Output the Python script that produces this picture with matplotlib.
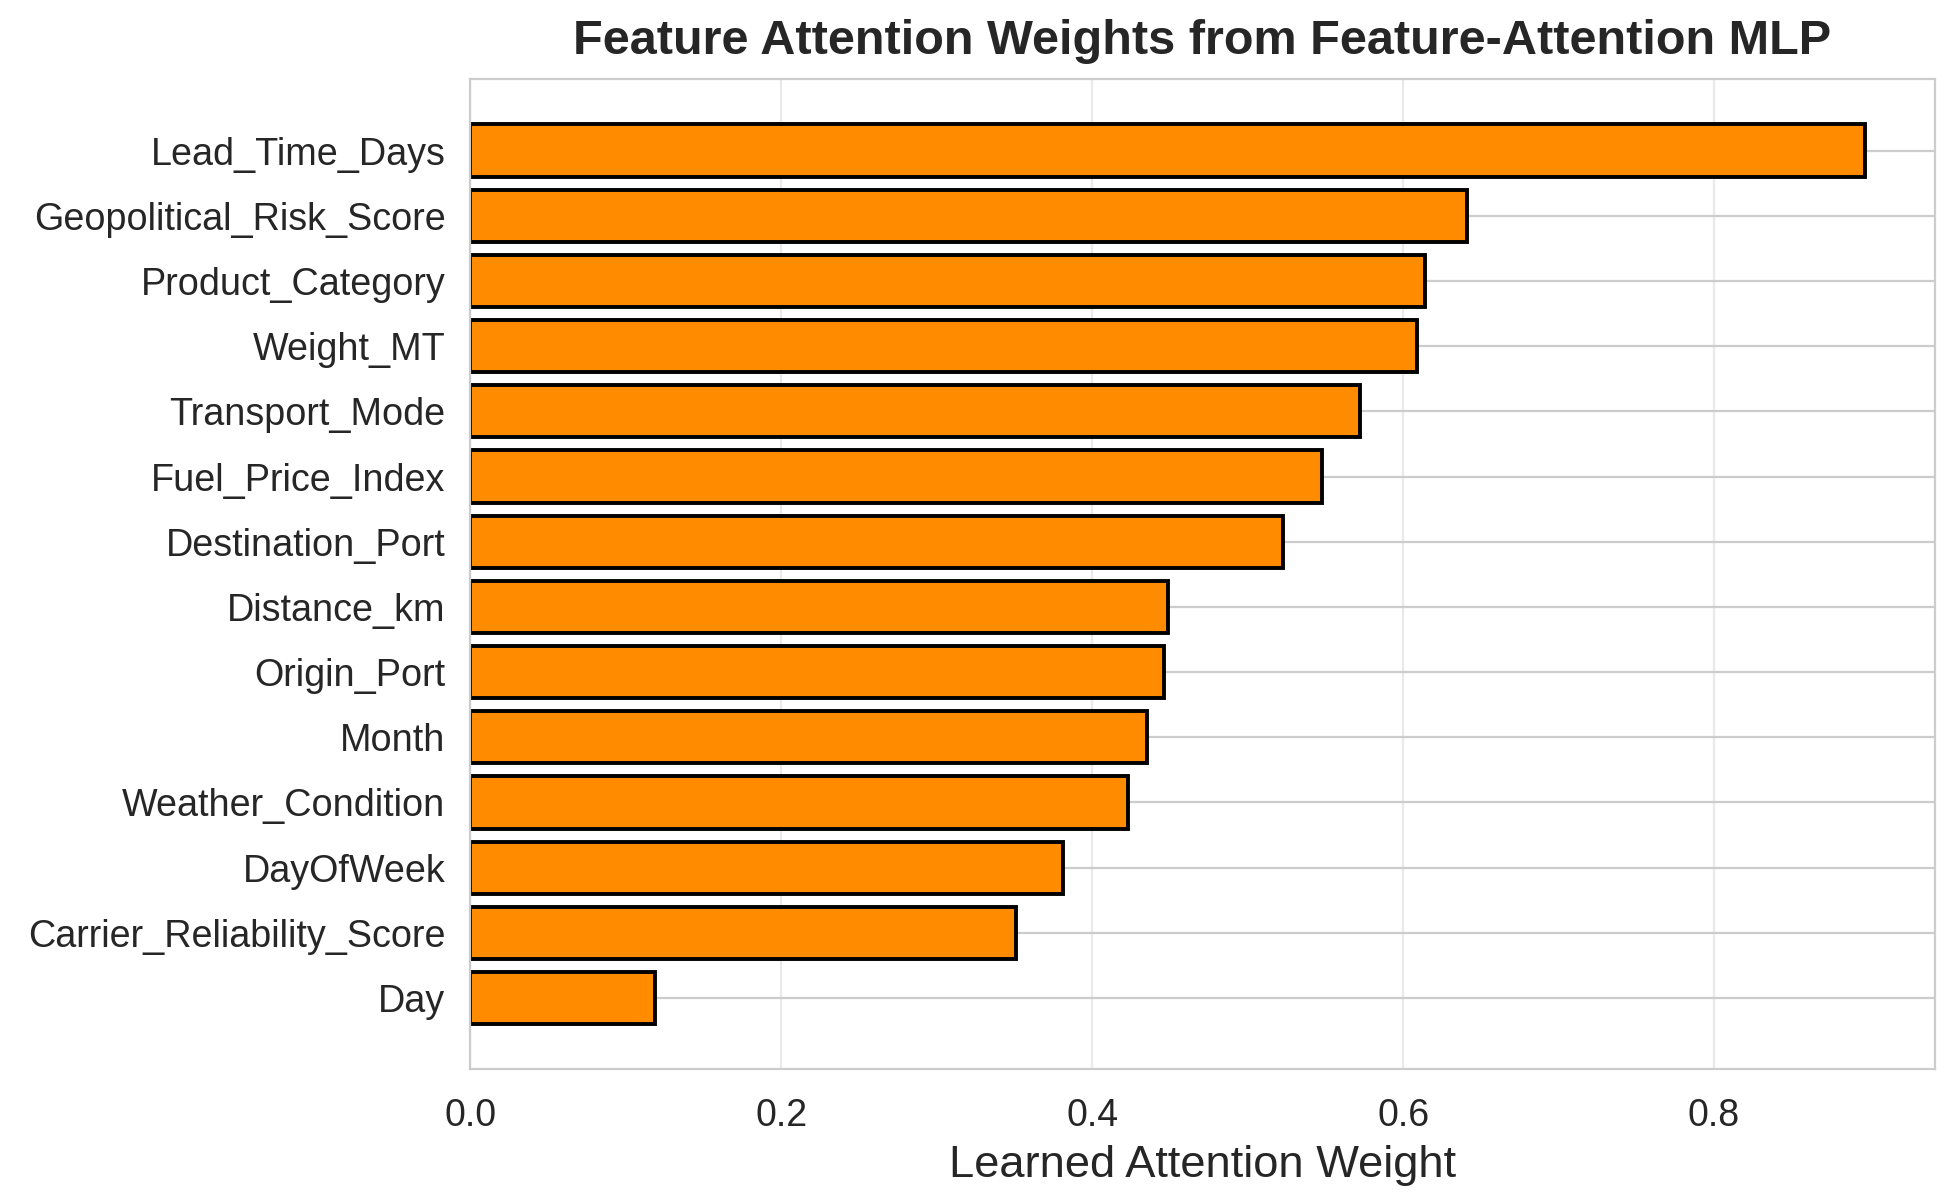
import numpy as np
import matplotlib
matplotlib.use("Agg")
import matplotlib.pyplot as plt
import seaborn as sns

# attention weights (top to bottom)
features = ['Lead_Time_Days', 'Geopolitical_Risk_Score', 'Product_Category',
            'Weight_MT', 'Transport_Mode', 'Fuel_Price_Index',
            'Destination_Port', 'Distance_km', 'Origin_Port', 'Month',
            'Weather_Condition', 'DayOfWeek', 'Carrier_Reliability_Score', 'Day']
weights = [0.897, 0.641, 0.614, 0.609, 0.572, 0.548,
           0.523, 0.449, 0.446, 0.435, 0.423, 0.381, 0.351, 0.119]

sns.set_style("whitegrid")
plt.rcParams['font.family'] = ['Liberation Sans', 'DejaVu Sans']

fig, ax = plt.subplots(figsize=(9.8, 6.02), dpi=200)
ypos = np.arange(len(features))[::-1]
ax.barh(ypos, weights, color='darkorange', edgecolor='black', linewidth=1.4)
ax.set_yticks(ypos)
ax.set_yticklabels(features, fontsize=13.6)
ax.tick_params(axis='y', pad=5.5)
ax.tick_params(axis='x', labelsize=13.5, pad=7)
ax.grid(axis='x', alpha=0.4)
ax.set_xlabel('Learned Attention Weight', fontsize=16.3)
ax.set_title('Feature Attention Weights from Feature-Attention MLP',
             fontsize=17.5, fontweight='bold', pad=9)

fig.subplots_adjust(left=0.24, right=0.987, top=0.934, bottom=0.112)
fig.savefig('out.png', dpi=200)
